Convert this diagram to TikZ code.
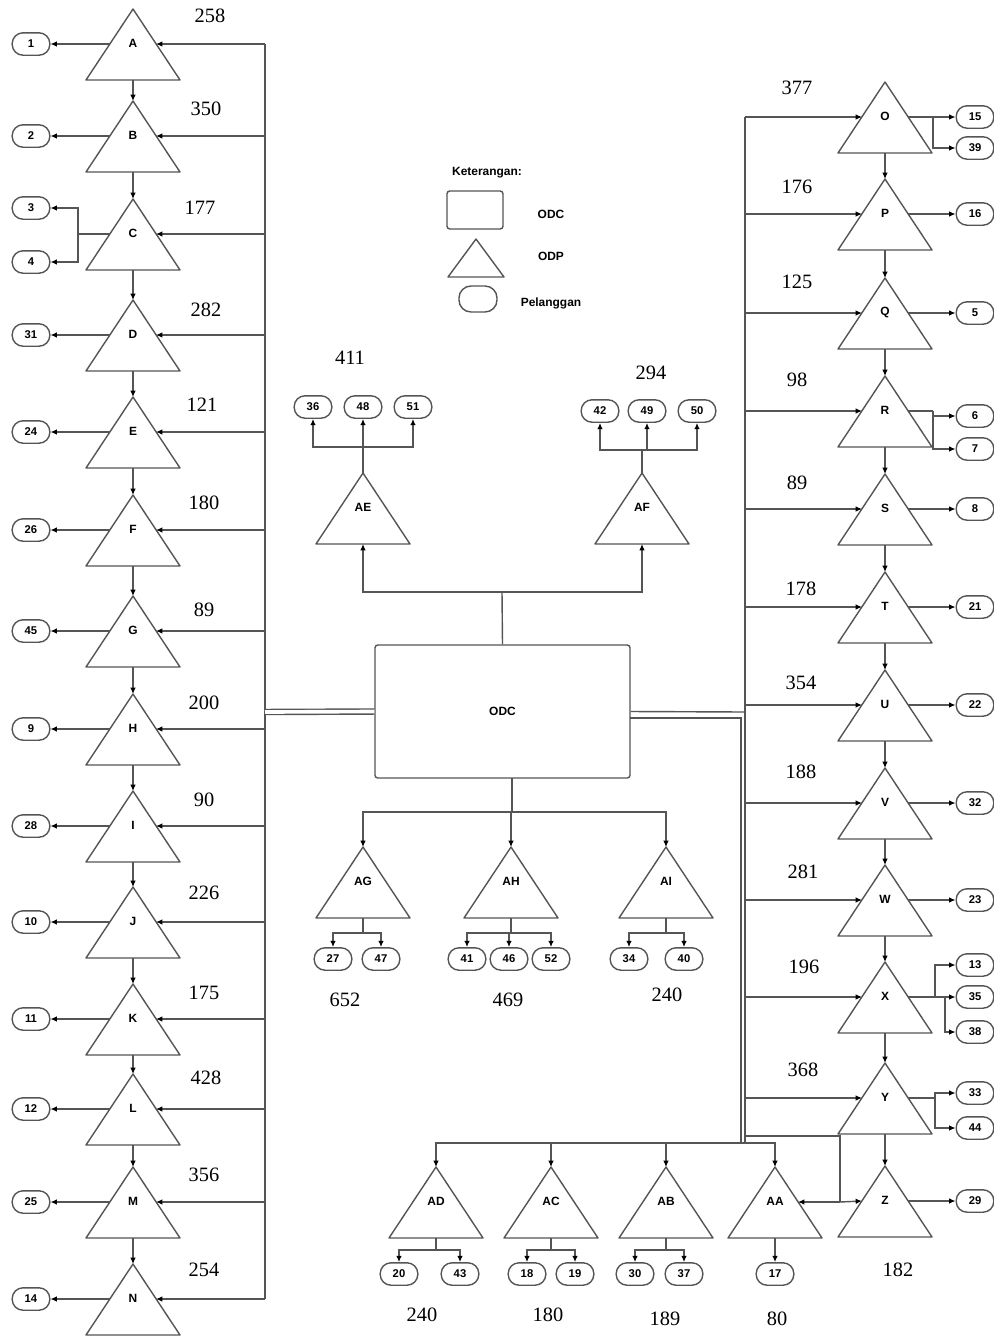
\documentclass[tikz,border=0pt]{standalone}
\usepackage{fontspec}
\setmainfont{Liberation Serif}
\setsansfont{Liberation Sans}
\usetikzlibrary{arrows.meta, positioning, calc}
\definecolor{cline}{HTML}{555555}
\tikzset{
  every picture/.style={line width=1pt, x=0.025cm, y=-0.025cm},
  odp/.style={draw=cline, line join=round},
  odplbl/.style={font=\sffamily\bfseries\fontsize{8.5}{10}\selectfont, inner sep=1pt},
  plg/.style={rectangle, rounded corners=0.27cm, draw=cline, minimum width=0.94cm, minimum height=0.56cm, inner sep=1pt, font=\sffamily\bfseries\fontsize{8}{10}\selectfont},
  arrow/.style={-{Latex[length=4.5pt, width=4pt, color=black]}, draw=cline},
  wire/.style={draw=cline},
  num/.style={font=\fontsize{14.5}{16}\selectfont, inner sep=0pt},
  legend/.style={font=\sffamily\bfseries\fontsize{8.5}{10}\selectfont},
}
% ODP triangle: name, apex x, label y
\newcommand{\odpnode}[3]{%
  \draw[odp] (#2,#3-34) -- (#2+47,#3+37) -- (#2-47,#3+37) -- cycle;
  \node[odplbl] (#1) at (#2,#3) {#1};
  \coordinate (#1-t) at (#2,#3-34);
  \coordinate (#1-b) at (#2,#3+37);
  \coordinate (#1-w) at (#2-23,#3+1);
  \coordinate (#1-e) at (#2+23,#3+1);
}

\begin{document}
\begin{tikzpicture}
  \useasboundingbox (0,0) rectangle (994,1337);

  % left column
  \foreach \n/\y in {A/43, B/135, C/233, D/334, E/431, F/529, G/630, H/728, I/825, J/921, K/1018, L/1108, M/1201, N/1298} {
    \odpnode{\n}{133}{\y}
    \coordinate (busL-\n) at (265,\y+1);
    \draw[arrow] (busL-\n) -- (\n-e);
  }
  \foreach \a/\b in {A/B, B/C, C/D, D/E, E/F, F/G, G/H, H/I, I/J, J/K, K/L, L/M, M/N}
    \draw[arrow] (\a-b) -- (\b-t);
  \draw[wire] (busL-A) -- (busL-N);
  \foreach \n/\c in {A/1, B/2, D/31, E/24, F/26, G/45, H/9, I/28, J/10, K/11, L/12, M/25, N/14} {
    \node[plg] (c\c) at (31,0 |- \n-w) {\c};
    \draw[arrow] (\n-w) -- (c\c);
  }
  \node[plg] (c3) at (31,208) {3};
  \node[plg] (c4) at (31,262) {4};
  \coordinate (csplit) at (78,234);
  \draw[wire] (C-w) -- (csplit);
  \draw[arrow] (csplit) |- (c3);
  \draw[arrow] (csplit) |- (c4);

  % right column
  \foreach \n/\y in {O/116, P/213, Q/312, R/410, S/508, T/606, U/704, V/802, W/899, X/996, Y/1097, Z/1200} {
    \odpnode{\n}{885}{\y}
  }
  \foreach \n/\y in {O/116, P/213, Q/312, R/410, S/508, T/606, U/704, V/802, W/899, X/996, Y/1097} {
    \coordinate (busR-\n) at (745,\y+1);
    \draw[arrow] (busR-\n) -- (\n-w);
  }
  \foreach \a/\b in {O/P, P/Q, Q/R, R/S, S/T, T/U, U/V, V/W, W/X, X/Y, Y/Z}
    \draw[arrow] (\a-b) -- (\b-t);
  \foreach \n/\c in {P/16, Q/5, S/8, T/21, U/22, V/32, W/23, Z/29} {
    \node[plg] (c\c) at (975,0 |- \n-e) {\c};
    \draw[arrow] (\n-e) -- (c\c);
  }
  \node[plg] (c15) at (975,117) {15};
  \node[plg] (c39) at (975,148) {39};
  \coordinate (osplit) at (933,117);
  \draw[wire] (O-e) -- (osplit);
  \draw[arrow] (osplit) -- (c15);
  \draw[arrow] (osplit) |- (c39);
  \node[plg] (c6) at (975,416) {6};
  \node[plg] (c7) at (975,449) {7};
  \coordinate (rsplit) at (933,411);
  \draw[wire] (R-e) -- (rsplit);
  \draw[arrow] (rsplit) |- (c6);
  \draw[arrow] (rsplit) |- (c7);
  \node[plg] (c13) at (975,965) {13};
  \node[plg] (c35) at (975,997) {35};
  \node[plg] (c38) at (975,1032) {38};
  \coordinate (xsplitA) at (935,997);
  \coordinate (xsplitB) at (945,997);
  \draw[wire] (X-e) -- (xsplitB);
  \draw[arrow] (xsplitA) |- (c13);
  \draw[arrow] (xsplitB) -- (c35);
  \draw[arrow] (xsplitB) |- (c38);
  \node[plg] (c33) at (975,1093) {33};
  \node[plg] (c44) at (975,1128) {44};
  \coordinate (ysplit) at (935,1098);
  \draw[wire] (Y-e) -- (ysplit);
  \draw[arrow] (ysplit) |- (c33);
  \draw[arrow] (ysplit) |- (c44);

  % ODC and its links
  \node[draw=cline, rounded corners=2pt, minimum width=6.375cm, minimum height=3.325cm, legend] (odc) at (502.5,711.5) {ODC};
  \coordinate (busL-odc) at (265,712);
  \draw[wire, double, double distance=2.6pt] (odc.west) -- (busL-odc);
  \coordinate (busR-odc) at (745,712);
  \coordinate (odcR2) at (630,718);
  \coordinate (busR2) at (741,718);
  \coordinate (bbus) at (745,1143);
  \coordinate (bbus2) at (741,1143);
  \draw[wire] (odc.east) -- (busR-odc);
  \draw[wire] (odcR2) -- (busR2) -- (bbus2);
  \draw[wire] (busR-O) -- (bbus);

  % upper branch
  \odpnode{AE}{363}{507}
  \odpnode{AF}{642}{507}
  \coordinate (topsplit) at (502,592);
  \draw[wire] (odc.north) -- (topsplit);
  \draw[arrow] (topsplit) -| (AE-b);
  \draw[arrow] (topsplit) -| (AF-b);
  \coordinate (aesplit) at (363,447);
  \draw[wire] (AE-t) -- (aesplit);
  \foreach \c/\x in {36/313, 48/363, 51/413} {
    \node[plg] (c\c) at (\x,407) {\c};
    \draw[arrow] (aesplit) -| (c\c);
  }
  \coordinate (afsplit) at (642,450);
  \draw[wire] (AF-t) -- (afsplit);
  \foreach \c/\x in {42/600, 49/647, 50/697} {
    \node[plg] (c\c) at (\x,411) {\c};
    \draw[arrow] (afsplit) -| (c\c);
  }

  % lower branch
  \odpnode{AG}{363}{881}
  \odpnode{AH}{511}{881}
  \odpnode{AI}{666}{881}
  \coordinate (odcS) at (512,778);
  \coordinate (botsplit) at (512,812);
  \draw[wire] (odcS) -- (botsplit);
  \foreach \n in {AG, AH, AI}
    \draw[arrow] (botsplit) -| (\n-t);
  \foreach \n/\x/\cs in {AG/363/{27/333, 47/381}, AH/511/{41/467, 46/509, 52/551}, AI/666/{34/629, 40/684}} {
    \coordinate (\n-split) at (\x,933);
    \draw[wire] (\n-b) -- (\n-split);
    \foreach \c/\cx in \cs {
      \node[plg] (c\c) at (\cx,959) {\c};
      \draw[arrow] (\n-split) -| (c\c);
    }
  }

  % bottom row
  \foreach \n/\x in {AD/436, AC/551, AB/666, AA/775} {
    \odpnode{\n}{\x}{1201}
    \draw[arrow] (bbus) -| (\n-t);
  }
  \foreach \n/\x/\cs in {AD/436/{20/399, 43/460}, AC/551/{18/527, 19/575}, AB/666/{30/635, 37/684}} {
    \coordinate (\n-split) at (\x,1250);
    \draw[wire] (\n-b) -- (\n-split);
    \foreach \c/\cx in \cs {
      \node[plg] (c\c) at (\cx,1274) {\c};
      \draw[arrow] (\n-split) -| (c\c);
    }
  }
  \node[plg] (c17) at (775,1274) {17};
  \draw[arrow] (AA-b) -- (c17);
  \coordinate (zbr) at (745,1136);
  \coordinate (zcorner) at (840,1136);
  \coordinate (zmid) at (840,1202);
  \draw[wire] (zbr) -- (zcorner) -- (zmid);
  \draw[arrow] (zmid) -- (AA-e);
  \draw[arrow] (zmid) -- (Z-w);

  % legend
  \node[legend] (ket) at (487,173) {Keterangan:};
  \node[draw=cline, rounded corners=2pt, minimum width=1.4cm, minimum height=0.95cm] (lgbox) at (475,210) {};
  \draw[odp] (476,239) -- (504,277) -- (448,277) -- cycle;
  \node[plg, minimum width=0.95cm, minimum height=0.65cm, rounded corners=0.3cm] (lgoval) at (478,299) {};
  \node[legend] (lgodc) at (551,214) {ODC};
  \node[legend] (lgodp) at (551,256) {ODP};
  \node[legend] (lgplg) at (551,303) {Pelanggan};

  % cable lengths
  \foreach[count=\k] \t/\x/\y in {258/210/16, 350/206/109, 177/200/208, 282/206/310, 121/202/405, 180/204/503, 89/204/610, 200/204/703, 90/204/800, 226/204/893, 175/204/993, 428/206/1078, 356/204/1175, 254/204/1270,
      411/350/358, 294/651/373,
      377/797/88, 176/797/187, 125/797/282, 98/797/380, 89/797/483, 178/801/589, 354/801/683, 188/801/772, 281/803/872, 196/804/967, 368/803/1070, 182/898/1270,
      652/345/1000, 469/508/1000, 240/667/995,
      240/422/1315, 180/548/1315, 189/665/1319, 80/777/1319}
    \node[num] (len\k) at (\x,\y) {\t};
\end{tikzpicture}
\end{document}
